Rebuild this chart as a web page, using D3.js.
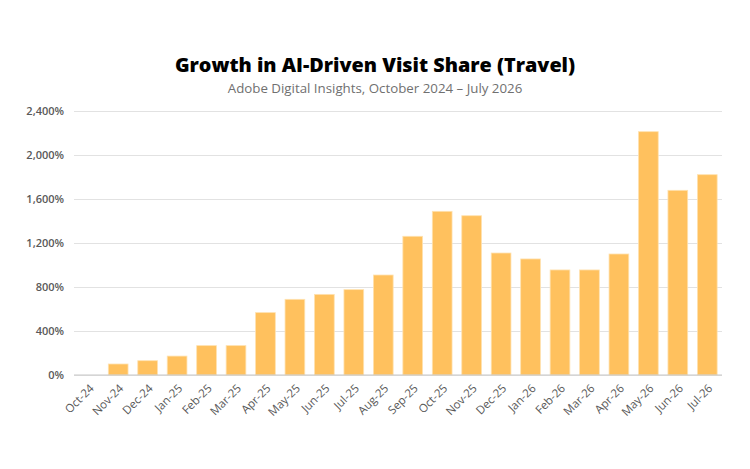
<!DOCTYPE html>
<html>
<head>
<meta charset="utf-8">
<script src="https://cdn.jsdelivr.net/npm/d3@7"></script>
<style>
  body { margin: 0; background: #fff; }
  svg { display: block; }
  .tick text { font-family: "Open Sans", sans-serif; }
</style>
</head>
<body>
<svg id="chart" width="750" height="469"></svg>
<script>
// months on the x axis
const months = ['Oct-24', 'Nov-24', 'Dec-24', 'Jan-25', 'Feb-25', 'Mar-25', 'Apr-25', 'May-25',
    'Jun-25', 'Jul-25', 'Aug-25', 'Sep-25', 'Oct-25', 'Nov-25', 'Dec-25', 'Jan-26', 'Feb-26',
    'Mar-26', 'Apr-26', 'May-26', 'Jun-26', 'Jul-26'];
// growth in AI-driven visit share, percent
const growth = [0, 100, 130, 172, 267, 267, 567, 688, 733, 776, 909, 1261, 1488, 1448, 1109,
    1055, 955, 955, 1100, 2212, 1679, 1821];
const yTicks = [0, 400, 800, 1200, 1600, 2000, 2400];

const titleText = 'Growth in AI-Driven Visit Share (Travel)';
const subtitleText = 'Adobe Digital Insights, October 2024 \u2013 July 2026';

const svg = d3.select('#chart');
const margin = {top: 111, right: 28, bottom: 94, left: 74};
const width = 750 - margin.left - margin.right;
const height = 469 - margin.top - margin.bottom;

svg.append('text')
    .attr('x', 375)
    .attr('y', 72)
    .attr('text-anchor', 'middle')
    .attr('font-family', '"Open Sans", sans-serif')
    .attr('font-weight', 800)
    .attr('font-size', 19.8)
    .attr('fill', '#000')
    .text(titleText);

svg.append('text')
    .attr('x', 375)
    .attr('y', 93)
    .attr('text-anchor', 'middle')
    .attr('font-family', '"Open Sans", sans-serif')
    .attr('font-size', 13.3)
    .attr('fill', '#707070')
    .text(subtitleText);

const g = svg.append('g')
    .attr('transform', 'translate(' + margin.left + ',' + margin.top + ')');

const x = d3.scaleBand()
    .domain(months)
    .range([0, width])
    .paddingInner(0.33)
    .paddingOuter(0.165);

const y = d3.scaleLinear()
    .domain([0, 2400])
    .range([height, 0]);

// gridlines + y labels
const yAxis = g.append('g')
    .call(d3.axisLeft(y)
        .tickValues(yTicks)
        .tickSize(-width)
        .tickPadding(10)
        .tickFormat(function(d){ return d3.format(',')(d) + '%'; }));
yAxis.select('.domain').remove();
yAxis.selectAll('.tick line')
    .attr('stroke', '#e2e2e2')
    .attr('stroke-width', 1);
yAxis.selectAll('.tick text')
    .attr('font-size', 11)
    .attr('font-weight', 600)
    .attr('fill', '#595959');

g.selectAll('.bar')
    .data(growth)
    .enter()
    .append('rect')
    .attr('class', 'bar')
    .attr('x', function(d, i){ return x(months[i]); })
    .attr('y', function(d){ return y(d); })
    .attr('width', x.bandwidth())
    .attr('height', function(d){ return height - y(d); })
    .attr('fill', '#ffc15e')
    .attr('stroke', '#ffe2b0')
    .attr('stroke-width', 0.8);

// baseline
g.append('line')
    .attr('x1', 0)
    .attr('x2', width)
    .attr('y1', height)
    .attr('y2', height)
    .attr('stroke', '#c8c8c8')
    .attr('stroke-width', 1.2);

const xAxis = g.append('g')
    .attr('transform', 'translate(0,' + height + ')')
    .call(d3.axisBottom(x).tickSize(0).tickPadding(0));
xAxis.select('.domain').remove();
xAxis.selectAll('.tick text')
    .attr('font-size', 11.5)
    .attr('fill', '#595959')
    .attr('text-anchor', 'end')
    .attr('dy', 0)
    .attr('transform', 'translate(6,14) rotate(-45)');
</script>
</body>
</html>
